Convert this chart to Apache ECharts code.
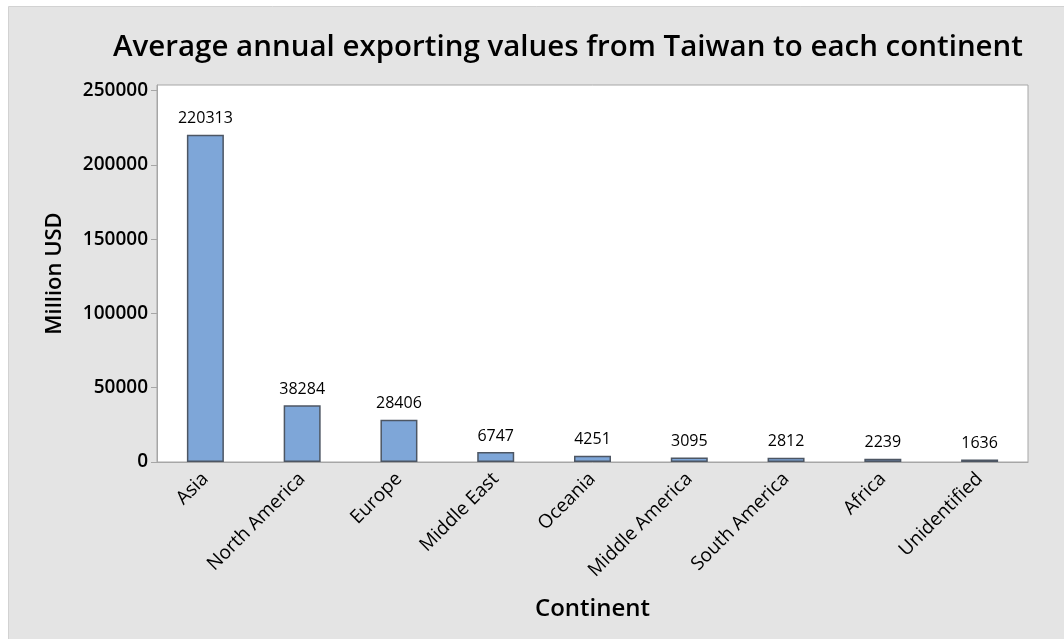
<!DOCTYPE html>
<html>
<head>
<meta charset="utf-8">
<script src="https://cdn.jsdelivr.net/npm/echarts@6/dist/echarts.min.js"></script>
<style>
  html, body { margin: 0; padding: 0; background: #fff; }
  #chart { width: 1064px; height: 639px; }
</style>
</head>
<body>
<div id="chart"></div>
<script>
const continents = ['Asia', 'North America', 'Europe', 'Middle East', 'Oceania',
    'Middle America', 'South America', 'Africa', 'Unidentified'];
const exportValues = [220313, 38284, 28406, 6747, 4251, 3095, 2812, 2239, 1636];
const yTicks = [0, 50000, 100000, 150000, 200000, 250000];

const fontFamily = '"Open Sans", "Noto Sans", sans-serif';
let chart = echarts.init(document.getElementById('chart'));

let option = {
    animation: false,
    textStyle: { fontFamily: fontFamily },
    graphic: [{
        type: 'rect',
        left: 8, top: 6,
        shape: { width: 1100, height: 700 },
        style: { fill: '#e4e4e4', stroke: '#d2d2d2', lineWidth: 1 },
        z: -10
    }],
    title: {
        text: 'Average annual exporting values from Taiwan to each continent',
        left: 108,
        top: 28,
        textStyle: { fontSize: 29.5, fontWeight: 600, color: '#000', fontFamily: fontFamily }
    },
    grid: {
        left: 157, right: 36, top: 85, bottom: 177,
        show: true,
        backgroundColor: '#fff',
        borderColor: '#a6a6a6',
        borderWidth: 1
    },
    xAxis: {
        type: 'category',
        data: continents,
        name: 'Continent',
        nameLocation: 'middle',
        nameGap: 135,
        nameTextStyle: { fontSize: 24, fontWeight: 600, color: '#000' },
        axisLine: { lineStyle: { color: '#a6a6a6' } },
        axisTick: { alignWithLabel: true, length: 6, lineStyle: { color: '#a6a6a6' } },
        axisLabel: { rotate: 45, fontSize: 19, color: '#000', margin: 14 }
    },
    yAxis: {
        type: 'value',
        min: 0,
        max: 253800,
        name: 'Million USD',
        nameLocation: 'middle',
        nameGap: 91,
        nameTextStyle: { fontSize: 22, fontWeight: 600, color: '#000' },
        splitLine: { show: false },
        axisLine: { show: true, lineStyle: { color: '#a6a6a6' } },
        axisTick: { show: true, length: 6, customValues: yTicks, lineStyle: { color: '#a6a6a6' } },
        axisLabel: {
            customValues: yTicks, fontSize: 19, fontWeight: 600, color: '#000', margin: 9,
            formatter: function (v) { return String(v); }
        }
    },
    series: [{
        type: 'bar',
        data: exportValues,
        barWidth: 37,
        itemStyle: { color: '#7ea6d8', borderColor: '#4d5663', borderWidth: 1.5 },
        label: { show: true, position: 'top', distance: 8, fontSize: 16, color: '#000' }
    }]
};
chart.setOption(option);
</script>
</body>
</html>
